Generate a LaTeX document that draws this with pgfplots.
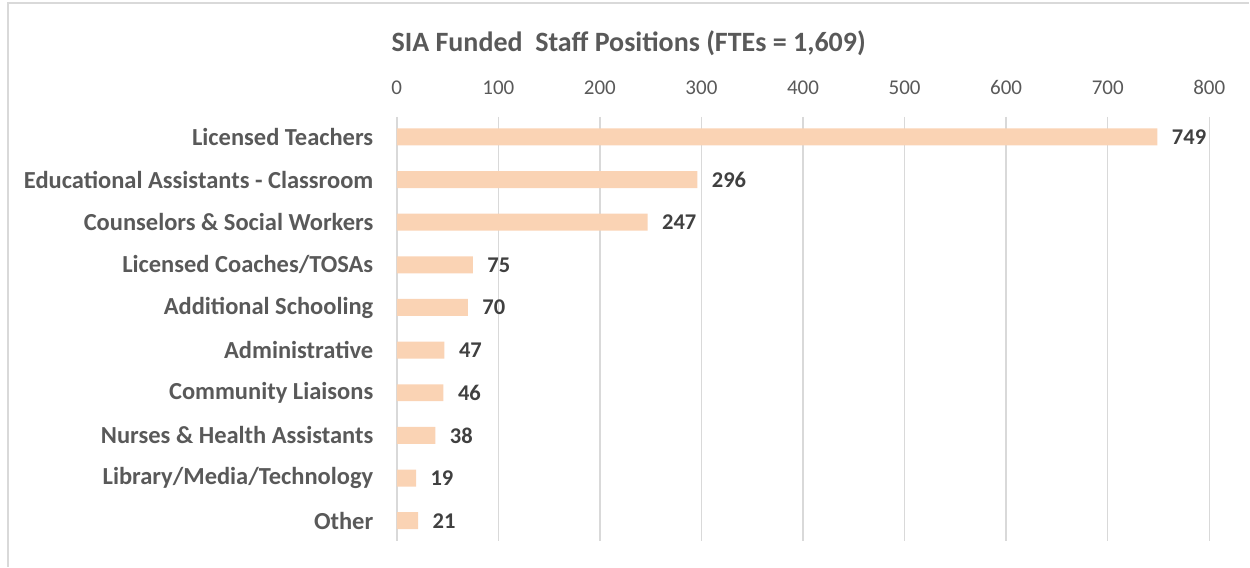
\documentclass[border=0pt]{standalone}
\usepackage{fontspec}
\setmainfont{Carlito}
\usepackage{pgfplots}
\pgfplotsset{compat=1.18}
\definecolor{barpeach}{HTML}{FAD3B4}
\definecolor{gridgray}{HTML}{D9D9D9}
\definecolor{labgray}{HTML}{595959}
\definecolor{valgray}{HTML}{404040}
\begin{document}
\begin{tikzpicture}[x=1pt,y=1pt]
% page and frame
\path (0,0) rectangle (1250,567);
\draw[gridgray, line width=1.5pt] (8,0) -- (8,564) -- (1250,564);
\node[labgray, font=\fontsize{28}{33}\selectfont\bfseries, anchor=base] at (629,515) {SIA Funded\ \ Staff Positions (FTEs = 1,609)};
\begin{axis}[
  at={(397pt,26pt)}, anchor=south west,
  scale only axis,
  width=813pt, height=424pt,
  xbar, bar width=17pt,
  xmin=0, xmax=800,
  ymin=-0.47, ymax=9.47,
  y dir=reverse,
  axis line style={draw=none},
  xtick={0,100,...,800},
  xticklabel pos=top,
  xmajorgrids,
  grid style={gridgray, line width=1.5pt},
  major tick length=0pt,
  tick align=outside,
  x tick label style={labgray, font=\fontsize{21}{25}\selectfont, yshift=19pt},
  /pgf/number format/assume math mode=true,
  ytick={0,...,9},
  yticklabels={Licensed Teachers, Educational Assistants - Classroom, Counselors \& Social Workers, Licensed Coaches/TOSAs, Additional Schooling, Administrative, Community Liaisons, Nurses \& Health Assistants, Library/Media/Technology, Other},
  y tick label style={labgray, font=\fontsize{24.5}{29}\selectfont\bfseries, xshift=-20pt},
  nodes near coords,
  nodes near coords style={valgray, font=\fontsize{22.5}{27}\selectfont\bfseries, anchor=west, xshift=11pt},
  clip=false,
]
\addplot[fill=barpeach, draw=none] coordinates {
  (749,0) (296,1) (247,2) (75,3) (70,4) (47,5) (46,6) (38,7) (19,8) (21,9)
};
\end{axis}
\end{tikzpicture}
\end{document}
